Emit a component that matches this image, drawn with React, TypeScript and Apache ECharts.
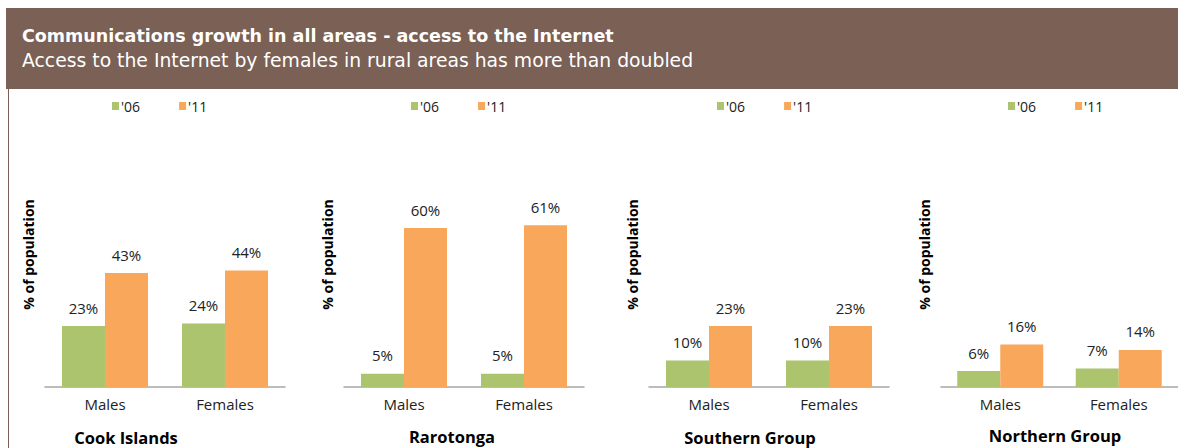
import React, { useEffect, useRef } from "react";
import * as echarts from "echarts";

const categories = ["Males", "Females"];
const panels = ["Cook Islands", "Rarotonga", "Southern Group", "Northern Group"];
const seriesNames = ["'06", "'11"];
const values06 = [
  [23, 24],
  [5, 5],
  [10, 10],
  [6, 7],
];
const values11 = [
  [43, 44],
  [60, 61],
  [23, 23],
  [16, 14],
];
const titleText = "Communications growth in all areas - access to the Internet";
const subtitleText = "Access to the Internet by females in rural areas has more than doubled";
const yAxisName = "% of population";

const GREEN = "#abc46d";
const ORANGE = "#f9a75a";
const BROWN = "#7a6055";
const FONT = "'Open Sans', 'Liberation Sans', sans-serif";

const gridLefts = [45, 344, 649, 941];
const gridWidths = [240, 240, 240, 238];
const legendLefts = [112, 411, 717, 1008];
const panelTitleX = [126, 452, 750, 1055];
const panelTitleY = [437, 436, 437, 435];

export default function App() {
  const ref = useRef<HTMLDivElement>(null);
  useEffect(() => {
    if (!ref.current) return;
    const chart = echarts.init(ref.current, undefined, { renderer: "svg" });
    const grid = gridLefts.map((l, i) => ({
      left: l,
      width: gridWidths[i],
      top: 122,
      bottom: 61,
    }));
    const xAxis = panels.map((_, i) => ({
      type: "category",
      gridIndex: i,
      data: categories,
      axisLine: { lineStyle: { color: "#a6a6a6", width: 1.5 } },
      axisTick: { show: false },
      axisLabel: { color: "#222", fontSize: 15, fontFamily: FONT, margin: 9 },
    }));
    const yAxis = panels.map((_, i) => ({
      type: "value",
      gridIndex: i,
      min: 0,
      max: 100,
      name: yAxisName,
      nameLocation: "middle",
      nameRotate: 90,
      nameGap: 10,
      nameTextStyle: { fontWeight: "bold", fontSize: 14, color: "#000", fontFamily: FONT },
      axisLine: { show: false },
      axisTick: { show: false },
      axisLabel: { show: false },
      splitLine: { show: false },
    }));
    const series: any[] = [];
    panels.forEach((_, i) => {
      [values06[i], values11[i]].forEach((vals, k) => {
        series.push({
          type: "bar",
          name: seriesNames[k],
          xAxisIndex: i,
          yAxisIndex: i,
          data: vals,
          barWidth: 43,
          barGap: "0%",
          itemStyle: { color: k === 0 ? GREEN : ORANGE },
          label: {
            show: true,
            position: "top",
            distance: 11,
            formatter: "{c}%",
            fontSize: 15,
            color: "#222",
            fontFamily: FONT,
          },
        });
      });
    });
    const legend = legendLefts.map((l) => ({
      left: l,
      top: 99,
      padding: 0,
      data: seriesNames,
      icon: "rect",
      itemWidth: 7,
      itemHeight: 8,
      itemGap: 39,
      textStyle: { fontSize: 14, color: "#222", fontFamily: FONT, padding: [0, 0, 0, -3] },
      selectedMode: false,
    }));
    const graphic: any[] = [
      { type: "rect", shape: { x: 6, y: 8, width: 1172, height: 81 }, style: { fill: BROWN } },
      {
        type: "line",
        shape: { x1: 8.5, y1: 89, x2: 8.5, y2: 448 },
        style: { stroke: BROWN, lineWidth: 1 },
      },
      {
        type: "text",
        x: 22,
        y: 36,
        style: {
          text: titleText,
          fill: "#fff",
          font: "bold 17.5px 'DejaVu Sans', sans-serif",
          verticalAlign: "middle",
        },
      },
      {
        type: "text",
        x: 22,
        y: 60,
        style: {
          text: subtitleText,
          fill: "#fff",
          font: "18.8px 'DejaVu Sans', sans-serif",
          verticalAlign: "middle",
        },
      },
      ...panels.map((p, i) => ({
        type: "text",
        x: panelTitleX[i],
        y: panelTitleY[i],
        style: {
          text: p,
          fill: "#000",
          font: "bold 16.5px 'Open Sans', sans-serif",
          align: "center",
          verticalAlign: "middle",
        },
      })),
    ];
    chart.setOption({
      animation: false,
      backgroundColor: "#fff",
      grid,
      xAxis,
      yAxis,
      series,
      legend,
      graphic,
    } as any);
    return () => chart.dispose();
  }, []);
  return (
    <div
      ref={ref}
      style={{ position: "fixed", left: 0, top: 0, width: 1178, height: 448 }}
    />
  );
}
